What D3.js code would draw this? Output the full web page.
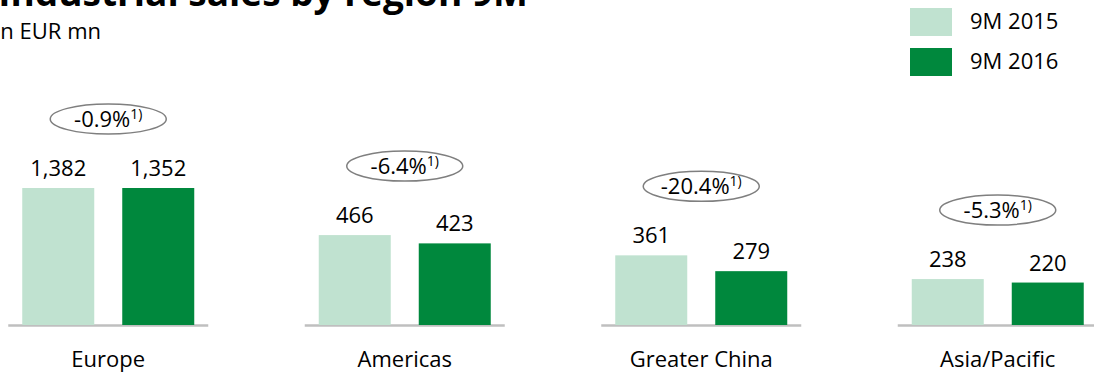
<!DOCTYPE html>
<html>
<head>
<meta charset="utf-8">
<script src="https://cdn.jsdelivr.net/npm/d3@7"></script>
<style>
  body { margin: 0; background: #fff; }
  text { font-family: "Open Sans", "Noto Sans", sans-serif; fill: #000; }
</style>
</head>
<body>
<div id="chart"></div>
<script>
// data
var regions = ["Europe", "Americas", "Greater China", "Asia/Pacific"];
var sales2015 = [1382, 466, 361, 238];
var sales2016 = [1352, 423, 279, 220];
var changes = ["-0.9%", "-6.4%", "-20.4%", "-5.3%"];
var seriesNames = ["9M 2015", "9M 2016"];
var colors = ["#c0e2d0", "#00883d"];

var svgWidth = 1094;
var svgHeight = 375;
var baseline = 325;

var svg = d3.select("#chart")
  .append("svg")
  .attr("width", svgWidth)
  .attr("height", svgHeight);

// title, cut off at the top like the slide
svg.append("text")
  .attr("x", 528)
  .attr("y", 6)
  .attr("text-anchor", "end")
  .style("font-size", "37px")
  .style("font-weight", "bold")
  .text("Industrial sales by region 9M");

svg.append("text")
  .attr("x", 101)
  .attr("y", 39)
  .attr("text-anchor", "end")
  .style("font-size", "22px")
  .text("in EUR mn");

// legend
var legend = svg.append("g");
seriesNames.forEach(function(name, i) {
  legend.append("rect")
    .attr("x", 910)
    .attr("y", 8 + i * 40)
    .attr("width", 42)
    .attr("height", 28)
    .attr("fill", colors[i]);
  legend.append("text")
    .attr("x", 970)
    .attr("y", 29 + i * 40)
    .style("font-size", "22px")
    .text(name);
});

// scales: the slide uses a broken axis, Europe is capped
var x0 = d3.scaleBand()
  .domain(regions)
  .range([-40, 1146])
  .paddingInner(0)
  .paddingOuter(0);

var x1 = d3.scaleBand()
  .domain([0, 1])
  .range([0, 172])
  .paddingInner(0.28);

var yScale = d3.scaleLinear()
  .domain([0, 710])
  .range([baseline, baseline - 137])
  .clamp(true);

var groups = svg.selectAll(".group")
  .data(regions)
  .enter()
  .append("g")
  .attr("class", "group")
  .attr("transform", d => `translate(${x0(d) + x0.bandwidth() / 2 - 86}, 0)`);

// baseline per group
groups.append("line")
  .attr("x1", -14)
  .attr("x2", 186)
  .attr("y1", baseline + 0.5)
  .attr("y2", baseline + 0.5)
  .attr("stroke", "#bfbfbf")
  .attr("stroke-width", 2.5);

groups.each(function(region, gi) {
  var g = d3.select(this);
  var vals = [sales2015[gi], sales2016[gi]];

  g.selectAll("rect")
    .data(vals)
    .enter()
    .append("rect")
    .attr("x", (d, i) => x1(i))
    .attr("width", x1.bandwidth())
    .attr("y", d => yScale(d))
    .attr("height", d => baseline - yScale(d))
    .attr("fill", (d, i) => colors[i]);

  g.selectAll(".val")
    .data(vals)
    .enter()
    .append("text")
    .attr("class", "val")
    .attr("x", (d, i) => x1(i) + x1.bandwidth() / 2)
    .attr("y", d => yScale(d) - 12)
    .attr("text-anchor", "middle")
    .style("font-size", "22px")
    .text(d => d3.format(",")(d));

  // change bubble
  var top = yScale(d3.max(vals));
  var cy = top - 69;
  g.append("ellipse")
    .attr("cx", 86)
    .attr("cy", cy)
    .attr("rx", 58)
    .attr("ry", 15)
    .attr("fill", "#fff")
    .attr("stroke", "#7f7f7f")
    .attr("stroke-width", 1.5);

  var t = g.append("text")
    .attr("x", 86)
    .attr("y", cy + 8)
    .attr("text-anchor", "middle")
    .style("font-size", "22px");
  t.append("tspan").text(changes[gi]);
  t.append("tspan")
    .attr("dy", -8)
    .style("font-size", "14px")
    .text("1)");

  g.append("text")
    .attr("x", 86)
    .attr("y", 367)
    .attr("text-anchor", "middle")
    .style("font-size", "22px")
    .text(region);
});
</script>
</body>
</html>
